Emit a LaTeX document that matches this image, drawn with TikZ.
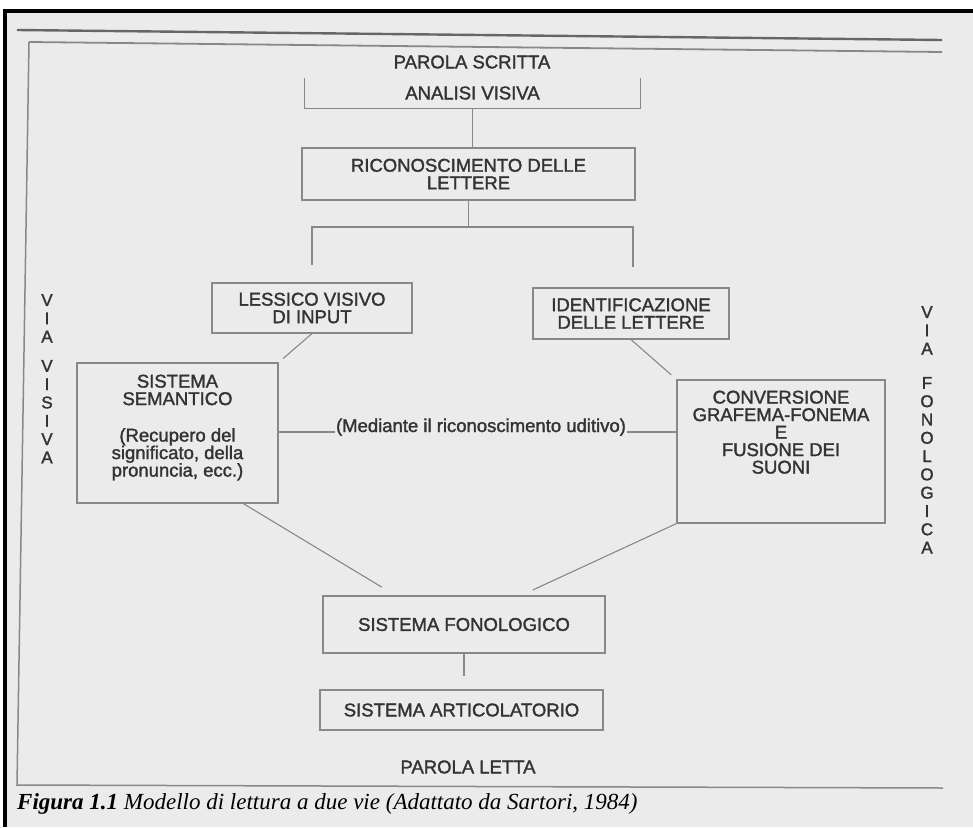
\documentclass[tikz,border=0pt]{standalone}
\usepackage{fontspec}
\setmainfont{Liberation Serif}
\newfontfamily\boxfont[FakeBold=1.6]{Liberation Sans}
\definecolor{paper}{HTML}{EBEBEB}
\definecolor{ink}{HTML}{333333}
\definecolor{rule}{HTML}{888888}
\begin{document}
\begin{tikzpicture}[x=1pt,y=-1pt,
  every node/.style={inner sep=0pt},
  caps/.style={font=\boxfont\fontsize{18.5}{17.5}\selectfont, text=ink, align=center},
  stage/.style={caps, draw=rule, line width=1.1pt},
  frame/.style={draw=rule, line width=1.1pt},
  wire/.style={draw=rule, line width=1.1pt},
  spine/.style={font=\boxfont\fontsize{17}{18.3}\selectfont, text=ink, align=center}
]
\useasboundingbox (0,0) rectangle (973,827);
\fill[white] (0,0) rectangle (973,827);
\fill[paper] (5,11) rectangle (973,827);

% page edge of the scan
\draw[line width=3.5pt, black] (5,827) -- (5,11) -- (973,11);

% running head rules and the figure frame
\draw[line width=2.4pt, rule!75!black] (17,30) -- (942,40);
\draw[line width=1.8pt, rule] (29,42) -- (942,52);
\draw[line width=1.5pt, rule] (29,42) -- (17,785) -- (943,788);

% stages of the model
\node[caps] (parola) at (472,62) {PAROLA SCRITTA};
\node[caps, minimum width=335pt, minimum height=30pt] (analisi) at (472.5,93) {ANALISI VISIVA};
\draw[wire] (analisi.north west) -- (analisi.south west) -- (analisi.south east) -- (analisi.north east);

\node[stage, minimum width=333pt, minimum height=52pt] (ricon) at (468.5,174) {RICONOSCIMENTO DELLE\\LETTERE};
\node[stage, minimum width=200pt, minimum height=50pt] (lessico) at (312,308) {LESSICO VISIVO\\DI INPUT};
\node[stage, minimum width=196pt, minimum height=51pt] (ident) at (631,313.5) {IDENTIFICAZIONE\\DELLE LETTERE};

\node[frame, minimum width=201pt, minimum height=140pt] (semant) at (177.5,433) {};
\node[caps, anchor=north] (semtext) at ([yshift=-12pt]semant.north)
  {SISTEMA\\SEMANTICO\\[19pt](Recupero del\\significato, della\\pronuncia, ecc.)};

\node[frame, minimum width=208pt, minimum height=143pt] (conv) at (781,451.5) {};
\node[caps, anchor=north] (convtext) at ([yshift=-11pt]conv.north)
  {CONVERSIONE\\GRAFEMA-FONEMA\\E\\FUSIONE DEI\\SUONI};

\node[stage, minimum width=282pt, minimum height=57pt] (fonol) at (464,624.5) {SISTEMA FONOLOGICO};
\node[stage, minimum width=283pt, minimum height=40pt] (artic) at (461.5,710) {SISTEMA ARTICOLATORIO};
\node[caps] (letta) at (468,767) {PAROLA LETTA};

% the two routes, written down the margins
\node[spine, anchor=north] (visiva) at (47,294) {V\\I\\A\\[11pt]V\\I\\S\\I\\V\\A};
\node[spine, anchor=north] (fonologica) at (927,306) {V\\I\\A\\[16pt]F\\O\\N\\O\\L\\O\\G\\I\\C\\A};

% connections
\coordinate (fork) at (473,227);
\coordinate (lend) at (312,265);
\coordinate (rend) at (633,267);
\draw[wire] (analisi.south) -- (analisi.south |- ricon.north);
\draw[wire] (ricon.south) -- (ricon.south |- fork);
\draw[wire] (lend) -- (lend |- fork) -- (rend |- fork) -- (rend);

\draw[wire, shorten >=6pt] (lessico.south) -- (semant.north east);
\draw[wire, shorten >=7pt] (ident.south) -- (conv.north west);

\node[font=\boxfont\fontsize{18.5}{17.5}\selectfont, text=ink, anchor=base, inner sep=1pt] (uditivo) at (481,432)
  {(Mediante il riconoscimento uditivo)};
\draw[wire] (semant.east |- uditivo.base) -- (uditivo.base west);
\draw[wire] (uditivo.base east) -- (conv.west |- uditivo.base);

\draw[wire, shorten >=16pt] (semant.313) -- (fonol.157);
\draw[wire, shorten >=13pt] (conv.south west) -- (fonol.27);
\draw[wire, shorten >=13pt] (fonol.south) -- (fonol.south |- artic.north);

% caption
\node[anchor=base west, font=\fontsize{23}{26}\selectfont\itshape, text=black] (caption) at (17,809)
  {\textbf{Figura 1.1} Modello di lettura a due vie (Adattato da Sartori, 1984)};
\end{tikzpicture}
\end{document}
